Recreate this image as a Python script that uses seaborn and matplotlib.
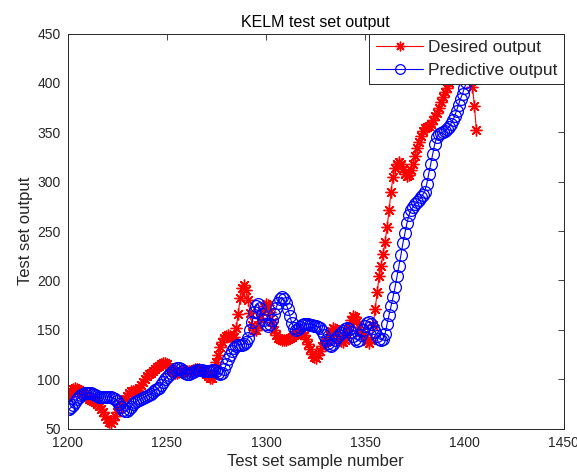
import numpy as np
import pandas as pd
import matplotlib
matplotlib.use("Agg")
import matplotlib.pyplot as plt
import seaborn as sns

# Sample index of the test set
sample_start = 1200
sample_end = 1406

# Measured (desired) output
desired = [
    82, 85, 88, 90, 91, 90, 89, 88, 86, 84,
    82, 80, 79, 78, 77, 75, 73, 70, 67, 63,
    60, 57, 56, 59, 63, 67, 71, 75, 78, 80,
    83, 86, 88, 88, 88, 89, 91, 94, 97, 100,
    103, 105, 106, 108, 110, 112, 113, 115, 116, 116,
    115, 112, 109, 107, 106, 106, 107, 108, 108, 108,
    108, 108, 108, 109, 110, 110, 110, 109, 108, 107,
    105, 103, 101, 101, 106, 117, 125, 133, 138, 142,
    144, 145, 144, 142, 143, 152, 166, 182, 192, 195,
    190, 180, 167, 155, 150, 150, 155, 162, 169, 174,
    176, 175, 168, 158, 150, 145, 142, 141, 140, 140,
    140, 141, 142, 143, 145, 146, 148, 148, 147, 145,
    141, 136, 131, 126, 122, 121, 124, 129, 134, 137,
    138, 140, 144, 149, 152, 151, 147, 142, 139, 138,
    140, 146, 153, 160, 164, 163, 159, 153, 148, 145,
    143, 139, 137, 140, 155, 171, 188, 204, 215, 227,
    239, 254, 271, 290, 305, 314, 318, 320, 318, 313,
    308, 306, 307, 312, 318, 326, 334, 340, 346, 351,
    354, 355, 356, 358, 362, 366, 370, 375, 381, 386,
    391, 395, 400, 405, 410, 414, 418, 421, 423, 424,
    424, 421, 415, 407, 396, 377, 352,
]

# KELM prediction
predicted = [
    70, 70, 72, 74, 77, 80, 82, 84, 85, 86,
    86, 86, 86, 85, 84, 83, 82, 82, 82, 82,
    82, 82, 82, 81, 80, 78, 75, 72, 69, 68,
    68, 70, 72, 75, 77, 78, 79, 80, 81, 82,
    83, 84, 85, 87, 89, 90, 91, 94, 97, 100,
    102, 104, 106, 108, 110, 111, 111, 110, 108, 106,
    105, 105, 106, 107, 108, 109, 109, 109, 109, 108,
    108, 108, 108, 109, 109, 108, 106, 105, 106, 110,
    115, 120, 125, 129, 132, 134, 135, 135, 135, 136,
    138, 142, 150, 158, 168, 174, 176, 172, 166, 160,
    156, 154, 156, 160, 166, 172, 177, 181, 183, 181,
    177, 171, 164, 157, 152, 150, 151, 153, 155, 156,
    156, 156, 155, 155, 154, 154, 153, 152, 149, 145,
    140, 137, 135, 134, 136, 140, 143, 145, 147, 149,
    151, 152, 151, 148, 144, 141, 139, 140, 145, 150,
    154, 157, 158, 156, 152, 148, 144, 141, 140, 141,
    146, 156, 165, 174, 183, 193, 204, 215, 226, 238,
    248, 258, 266, 271, 274, 277, 279, 281, 284, 287,
    290, 298, 308, 318, 328, 338, 345, 348, 349, 350,
    351, 353, 355, 358, 362, 366, 372, 378, 384, 389,
    395, 401, 407, 412, 416, 418, 419,
]

x_ticks = [1200, 1250, 1300, 1350, 1400, 1450]
y_ticks = [50, 100, 150, 200, 250, 300, 350, 400, 450]

samples = np.arange(sample_start, sample_end + 1)
df = pd.DataFrame({"sample": samples, "desired": desired, "predicted": predicted})

sns.set_style("white")
plt.rcParams["font.family"] = ["Liberation Sans", "DejaVu Sans"]

fig = plt.figure(figsize=(5.77, 4.72), dpi=100)
ax = fig.add_axes([0.117, 0.092, 0.860, 0.837])

sns.lineplot(data=df, x="sample", y="desired", ax=ax, color="red",
             linewidth=0.8, marker=(8, 2, 0), markersize=8.5,
             markeredgewidth=1.0, markeredgecolor="red",
             label="Desired output")
sns.lineplot(data=df, x="sample", y="predicted", ax=ax, color="blue",
             linewidth=0.8, marker="o", markersize=8.5,
             markerfacecolor="none", markeredgecolor="blue",
             markeredgewidth=0.9, label="Predictive output")

ax.set_xlim(x_ticks[0], x_ticks[-1])
ax.set_ylim(y_ticks[0], y_ticks[-1])
ax.set_xticks(x_ticks)
ax.set_yticks(y_ticks)
ax.tick_params(direction="in", top=True, right=True, length=4,
               width=0.6, labelsize=10, colors="#262626", pad=5)
for side in ax.spines.values():
    side.set_color("#262626")
    side.set_linewidth(0.7)

ax.set_xlabel("Test set sample number", fontsize=12, color="#262626", labelpad=3)
ax.set_ylabel("Test set output", fontsize=12, color="#262626", labelpad=3)
ax.set_title("KELM test set output", fontsize=11.5, color="black", pad=5)

leg = ax.legend(loc="upper right", fontsize=12.5, frameon=True, fancybox=False,
                framealpha=1, edgecolor="#262626", borderaxespad=0,
                handlelength=2.75, handletextpad=0.25, borderpad=0.38,
                labelspacing=0.42)
leg.get_frame().set_linewidth(0.7)
for h in leg.legend_handles:
    h.set_markersize(7)

fig.savefig("out.png", dpi=100)
